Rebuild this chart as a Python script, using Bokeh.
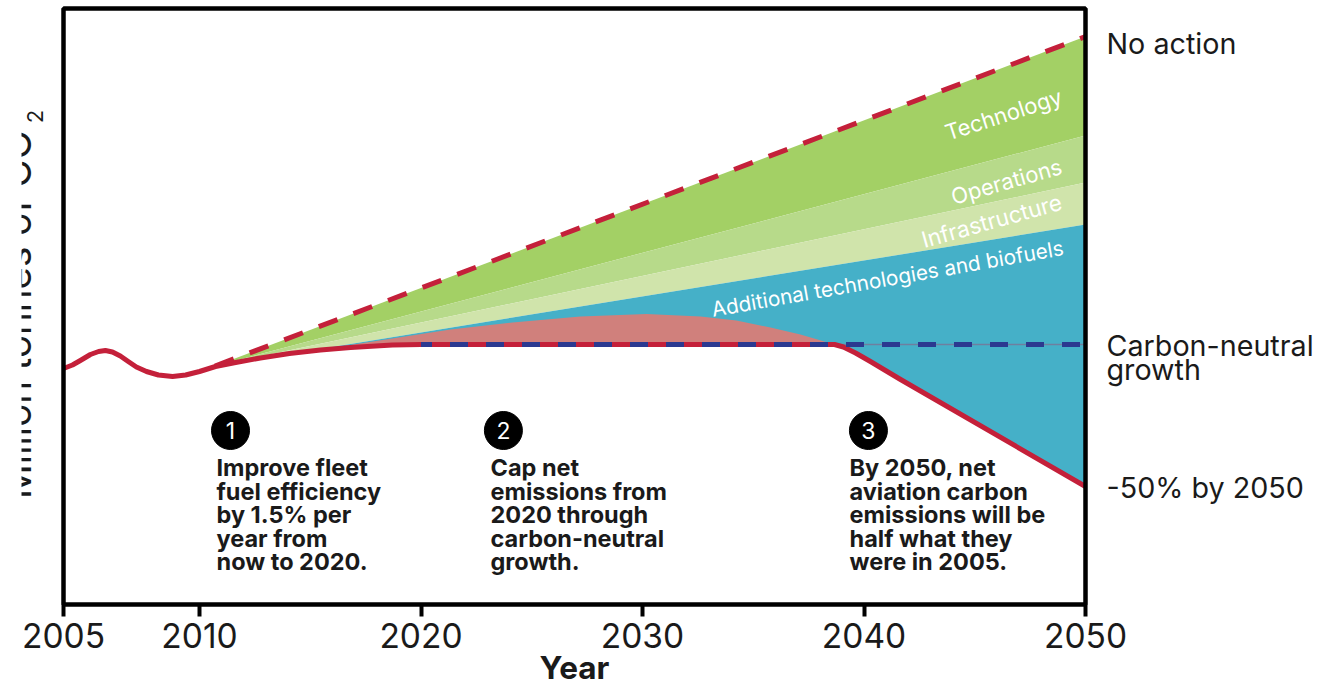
from bokeh.plotting import figure
from bokeh.models import Range1d, FixedTicker, Label, BoxAnnotation, ColumnDataSource, LinearAxis
from bokeh.core.properties import value
from bokeh.embed import file_html
from bokeh.resources import INLINE
import math

# ---- data (years, arbitrary emission index)
tick_years = [2005, 2010, 2020, 2030, 2040, 2050]
net_years = [2005, 2005.33, 2005.62, 2005.99, 2006.29, 2006.54, 2006.80, 2007.09, 2007.38, 2007.68,
             2008.05, 2008.49, 2009.01, 2009.49, 2010, 2010.72, 2011.63, 2012.75, 2014.06, 2015.46,
             2016.82, 2018.71, 2020, 2038.67, 2039.07, 2039.62, 2040.29, 2040.97, 2041.65, 2050]
net_vals = [236, 239.5, 244, 250, 253, 254, 252.5, 248.5, 243, 237.5,
            233, 229.5, 228, 229.5, 233, 238, 242, 246.5, 251, 254.5,
            257, 259.5, 260, 260, 257.5, 251.5, 243, 234, 225, 118]
wedge_years = [2010.7, 2050]
noaction_vals = [238.5, 568]
technology_vals = [238.5, 469]
operations_vals = [238.5, 422]
infrastructure_vals = [238.5, 380]
offset_years = [2014.06, 2016.37, 2018.71, 2021.33, 2024.13, 2027.2, 2030.18, 2032.62, 2034.24, 2035.78, 2037.13, 2038.67]
offset_vals = [252, 258, 266, 275, 282, 288, 290.5, 288, 284, 277, 270, 260]
neutral_years = [2020, 2050]
neutral_vals = [260, 260]
step_years = [2011.4, 2023.72, 2040.2]
step_vals = [174, 174, 174]
step_labels = ["1", "2", "3"]

GREEN, OPS, INFRA, TEAL, PINK = "#a3d065", "#b7da8a", "#d0e4ab", "#45b0c8", "#d0807c"
RED, BLUE, INK = "#c4203a", "#2b3990", "#1a1a1a"
FONT = "Inter"


def pos(year):
    # the 2005-2010 stretch of the original axis is drawn wider than the rest
    return year if year >= 2010 else 2010 - (2010 - year) * (136 / 5) / 22.15


def X(px):
    return 2010 + (px - 199) / 22.15


net_x = [pos(y) for y in net_years]
wx = [pos(y) for y in wedge_years]

# the frame fills the canvas so that texts beside the plot box are not clipped
p = figure(width=1319, height=686, output_backend="svg", toolbar_location=None,
           x_range=Range1d(X(0), X(1319)), y_range=Range1d(-82, 604),
           min_border=0, x_axis_location=None, y_axis_location=None)
p.frame_width = 1319
p.frame_height = 686
p.grid.visible = False
p.outline_line_color = None

ax = LinearAxis(fixed_location=0)
ax.ticker = FixedTicker(ticks=[pos(y) for y in tick_years])
ax.major_label_overrides = {pos(y): str(y) for y in tick_years}
ax.axis_line_color = None
ax.major_tick_line_color = "black"
ax.major_tick_line_width = 4
ax.major_tick_out = 12
ax.major_tick_in = 0
ax.minor_tick_line_color = None
ax.major_label_text_font = FONT
ax.major_label_text_font_size = "33.5px"
ax.major_label_text_color = INK
ax.major_label_standoff = 6
p.add_layout(ax, "below")

# stacked wedges
i0 = net_years.index(2010.72) + 1
p.patch(wx + wx[::-1], noaction_vals + technology_vals[::-1], fill_color=GREEN, line_color=None)
p.patch(wx + wx[::-1], technology_vals + operations_vals[::-1], fill_color=OPS, line_color=None)
p.patch(wx + wx[::-1], operations_vals + infrastructure_vals[::-1], fill_color=INFRA, line_color=None)
p.patch(wx + net_x[i0:][::-1], infrastructure_vals + net_vals[i0:][::-1], fill_color=TEAL, line_color=None)
j0, j1 = net_years.index(2014.06), net_years.index(2038.67)
off_x = [pos(y) for y in offset_years] + net_x[j0:j1 + 1][::-1]
p.patch(off_x, offset_vals + net_vals[j0:j1 + 1][::-1], fill_color=PINK, line_color=None)

p.line(neutral_years, neutral_vals, line_color="#6f7f9f", line_width=1.5)
p.line(net_x, net_vals, line_color=RED, line_width=5, line_join="round")
p.line(neutral_years, neutral_vals, line_color=BLUE, line_width=5, line_dash="18 18", line_dash_offset=7)
p.line(wx, noaction_vals, line_color=RED, line_width=5, line_dash="20 17")

# numbered markers
src = ColumnDataSource(dict(x=[pos(y) for y in step_years], y=step_vals, t=step_labels))
p.scatter("x", "y", source=src, size=38, color="black")
p.text("x", "y", text="t", source=src, text_color="white", text_font=value(FONT),
       text_font_size="23px", text_align="center", text_baseline="middle")


def L(text, px, py, size, color=INK, style="normal", align="left", base="middle", angle=0):
    p.add_layout(Label(x=px, y=py, x_units="canvas", y_units="canvas", text=text, text_font=FONT,
                       text_font_size=f"{size}px", text_color=color, text_font_style=style,
                       text_align=align, text_baseline=base, angle=math.radians(angle)))


# wedge captions
L("Technology", 1003, 114, 22, "white", align="center", angle=18)
L("Operations", 1006, 181, 22, "white", align="center", angle=16)
L("Infrastructure", 991, 220, 22.5, "white", align="center", angle=15.6)
L("Additional technologies and biofuels", 887, 278, 20.8, "white", align="center", angle=10)

# step notes
for left, lines in [(216, ["Improve fleet", "fuel efficiency", "by 1.5% per", "year from", "now to 2020."]),
                    (490, ["Cap net", "emissions from", "2020 through", "carbon-neutral", "growth."]),
                    (849, ["By 2050, net", "aviation carbon", "emissions will be", "half what they", "were in 2005."])]:
    for row, text in zip([467, 490.5, 514, 537.5, 561], lines):
        L(text, left, row, 23.5, style="bold")

# outer labels
L("No action", 1106, 43, 28.7)
L("Carbon-neutral", 1106, 345, 28.7)
L("growth", 1106, 369, 28.7)
L("-50% by 2050", 1106, 487, 28.7)
L("Year", 574, 667, 31.5, style="bold", align="center")
L("Million tonnes of CO", 16.5, 314, 38.5, align="center", base="alphabetic", angle=90)
L("2", 34, 116, 22, align="center", base="alphabetic", angle=90)

# the original's y title is cropped on its left side
p.add_layout(BoxAnnotation(left=0, right=21, top=0, bottom=600, left_units="canvas", right_units="canvas",
                           top_units="canvas", bottom_units="canvas", fill_color="white", fill_alpha=1,
                           line_color=None, level="overlay"))
# plot box on top of the areas
p.add_layout(BoxAnnotation(left=pos(2005), right=2050, bottom=0, top=596, fill_alpha=0, line_color="black",
                           line_alpha=1, line_width=4.5, level="overlay"))

open("out.html", "w").write(file_html(p, INLINE))
